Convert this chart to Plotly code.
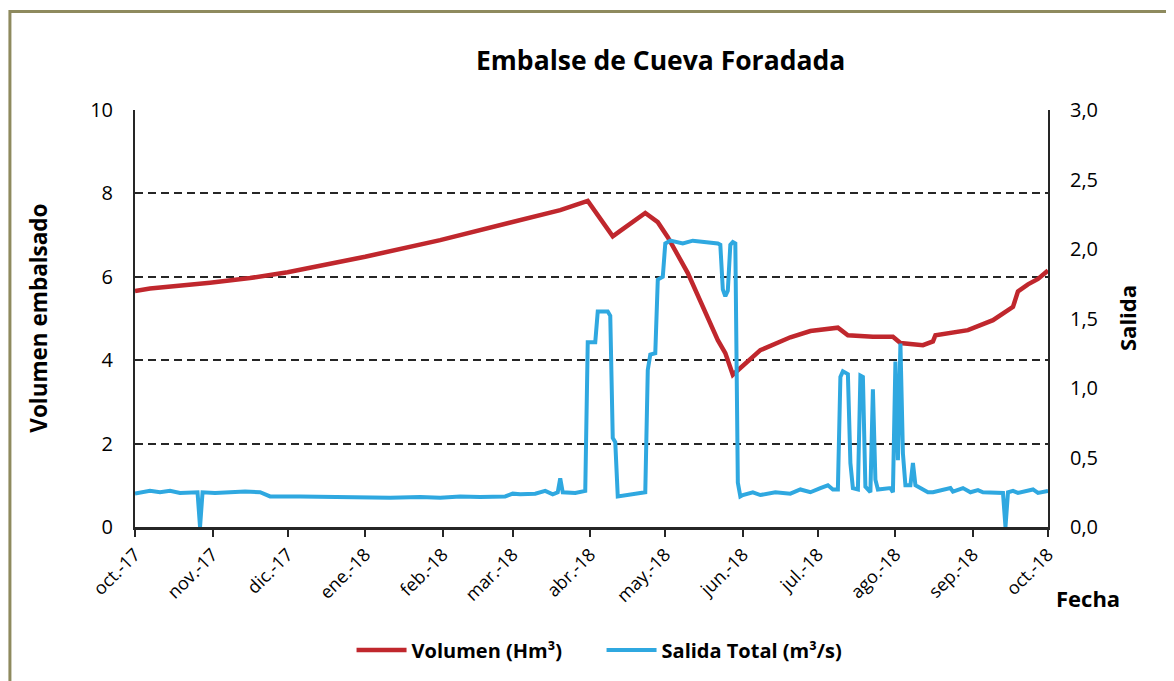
import plotly.graph_objects as go

vol_dates = ["2017-10-01", "2017-10-07", "2017-10-31", "2017-11-16", "2017-12-01",
             "2018-01-01", "2018-01-31", "2018-02-28", "2018-03-20", "2018-03-31",
             "2018-04-10", "2018-04-13", "2018-04-23", "2018-04-28", "2018-05-02",
             "2018-05-10", "2018-05-16", "2018-05-22", "2018-05-25", "2018-05-28",
             "2018-06-08", "2018-06-20", "2018-06-28", "2018-07-09", "2018-07-13",
             "2018-07-23", "2018-07-31", "2018-08-03", "2018-08-12", "2018-08-16",
             "2018-08-17", "2018-08-30", "2018-09-09", "2018-09-12", "2018-09-17",
             "2018-09-19", "2018-09-23", "2018-09-27", "2018-10-01"]
vol_values = [5.66, 5.72, 5.86, 5.97, 6.11,
              6.48, 6.88, 7.3, 7.6, 7.82,
              6.97, 7.1, 7.53, 7.31, 6.95,
              6.09, 5.28, 4.48, 4.17, 3.65,
              4.24, 4.55, 4.7, 4.78, 4.6,
              4.56, 4.56, 4.41, 4.36, 4.45,
              4.6, 4.72, 4.96, 5.08, 5.28,
              5.65, 5.82, 5.95, 6.15]

sal_dates = ["2017-10-01", "2017-10-05", "2017-10-07", "2017-10-11", "2017-10-15",
             "2017-10-19", "2017-10-23", "2017-10-26", "2017-10-27", "2017-10-28",
             "2017-11-02", "2017-11-08", "2017-11-14", "2017-11-20", "2017-11-24",
             "2017-12-06", "2017-12-18", "2017-12-30", "2018-01-11", "2018-01-23",
             "2018-01-31", "2018-02-08", "2018-02-16", "2018-02-26", "2018-03-01",
             "2018-03-04", "2018-03-10", "2018-03-14", "2018-03-17", "2018-03-19",
             "2018-03-20", "2018-03-21", "2018-03-26", "2018-03-30", "2018-03-31",
             "2018-04-03", "2018-04-04", "2018-04-08", "2018-04-09", "2018-04-10",
             "2018-04-11", "2018-04-12", "2018-04-17", "2018-04-21", "2018-04-23",
             "2018-04-24", "2018-04-25", "2018-04-27", "2018-04-28", "2018-04-30",
             "2018-05-01", "2018-05-03", "2018-05-08", "2018-05-12", "2018-05-16",
             "2018-05-22", "2018-05-23", "2018-05-24", "2018-05-25", "2018-05-26",
             "2018-05-27", "2018-05-28", "2018-05-29", "2018-05-30", "2018-05-31",
             "2018-06-01", "2018-06-05", "2018-06-08", "2018-06-14", "2018-06-20",
             "2018-06-24", "2018-06-28", "2018-07-02", "2018-07-05", "2018-07-07",
             "2018-07-09", "2018-07-10", "2018-07-11", "2018-07-13", "2018-07-14",
             "2018-07-15", "2018-07-17", "2018-07-18", "2018-07-19", "2018-07-20",
             "2018-07-22", "2018-07-23", "2018-07-24", "2018-07-25", "2018-07-30",
             "2018-07-31", "2018-08-01", "2018-08-02", "2018-08-03", "2018-08-04",
             "2018-08-05", "2018-08-07", "2018-08-08", "2018-08-09", "2018-08-14",
             "2018-08-16", "2018-08-22", "2018-08-23", "2018-08-24", "2018-08-28",
             "2018-08-31", "2018-09-03", "2018-09-05", "2018-09-13", "2018-09-14",
             "2018-09-15", "2018-09-17", "2018-09-19", "2018-09-25", "2018-09-27",
             "2018-10-01"]
sal_values = [0.24, 0.25, 0.26, 0.25, 0.26,
              0.245, 0.25, 0.25, 0.0, 0.25,
              0.245, 0.25, 0.255, 0.25, 0.22,
              0.22, 0.215, 0.215, 0.21, 0.215,
              0.21, 0.22, 0.215, 0.22, 0.24,
              0.235, 0.24, 0.26, 0.235, 0.25,
              0.35, 0.25, 0.245, 0.26, 1.33,
              1.33, 1.55, 1.55, 1.52, 0.64,
              0.61, 0.22, 0.235, 0.245, 0.25,
              1.13, 1.24, 1.25, 1.78, 1.8,
              2.04, 2.06, 2.04, 2.06, 2.05,
              2.04, 2.03, 1.71, 1.66, 1.7,
              2.03, 2.05, 2.04, 0.32, 0.22,
              0.23, 0.25, 0.23, 0.25, 0.24,
              0.27, 0.25, 0.28, 0.3, 0.27,
              0.27, 1.08, 1.12, 1.1, 0.46,
              0.28, 0.27, 1.09, 1.08, 0.29,
              0.25, 0.99, 0.34, 0.27, 0.28,
              0.25, 1.19, 0.48, 1.32, 0.53,
              0.3, 0.3, 0.46, 0.3, 0.25,
              0.25, 0.27, 0.28, 0.255, 0.28,
              0.25, 0.265, 0.25, 0.245, 0.0,
              0.25, 0.26, 0.245, 0.27, 0.245,
              0.26]

tick_dates = ["2017-10-01", "2017-11-01", "2017-12-01", "2018-01-01", "2018-02-01",
              "2018-03-01", "2018-04-01", "2018-05-01", "2018-06-01", "2018-07-01",
              "2018-08-01", "2018-09-01", "2018-10-01"]
tick_labels = ["oct.-17", "nov.-17", "dic.-17", "ene.-18", "feb.-18", "mar.-18",
               "abr.-18", "may.-18", "jun.-18", "jul.-18", "ago.-18", "sep.-18", "oct.-18"]
left_ticks = [0, 2, 4, 6, 8, 10]
right_ticks = [0, 0.5, 1.0, 1.5, 2.0, 2.5, 3.0]
right_labels = ["0,0", "0,5", "1,0", "1,5", "2,0", "2,5", "3,0"]

FONT = "Open Sans"
DARK = "#262626"

fig = go.Figure()
fig.add_trace(go.Scatter(x=vol_dates, y=vol_values, mode="lines", name="Volumen (Hm³)",
                         line=dict(color="#C0272D", width=4.5), yaxis="y"))
fig.add_trace(go.Scatter(x=sal_dates, y=sal_values, mode="lines", name="Salida Total (m³/s)",
                         line=dict(color="#2FA8E0", width=4), yaxis="y2"))

fig.update_layout(
    width=1166, height=673,
    margin=dict(l=127, r=126, t=102, b=154),
    paper_bgcolor="white", plot_bgcolor="white",
    font=dict(family=FONT, color="black", size=19),
    showlegend=True,
    legend=dict(orientation="h", x=0.511, xanchor="center", y=-0.295, yanchor="middle",
                font=dict(size=20, family=FONT, color="black", weight="bold"),
                itemwidth=50, tracegroupgap=0, traceorder="normal",
                entrywidth=185, entrywidthmode="pixels"),
    xaxis=dict(type="date", range=["2017-10-01", "2018-10-01"],
               tickvals=tick_dates, ticktext=tick_labels, tickangle=-45,
               ticks="outside", ticklen=7, tickwidth=2, tickcolor=DARK,
               showline=True, linewidth=3, linecolor=DARK, showgrid=False,
               tickfont=dict(size=18, family=FONT), zeroline=False),
    yaxis=dict(range=[0, 10], tickvals=left_ticks, showline=True, linewidth=2,
               linecolor=DARK, showgrid=True, gridcolor=DARK, gridwidth=2,
               griddash="8px,5px", zeroline=False, ticks="", ticklabelstandoff=16,
               tickfont=dict(size=20, family=FONT)),
    yaxis2=dict(range=[0, 3.0], tickvals=right_ticks, ticktext=right_labels,
                overlaying="y", side="right", showline=True, linewidth=2,
                linecolor=DARK, showgrid=False, zeroline=False, ticks="",
                ticklabelstandoff=16, tickfont=dict(size=20, family=FONT)),
    annotations=[
        dict(text="<b>Embalse de Cueva Foradada</b>", x=0.576, y=1.12, xref="paper",
             yref="paper", xanchor="center", yanchor="middle", showarrow=False,
             font=dict(size=26.5, family=FONT, color="black")),
        dict(text="<b>Volumen embalsado</b>", x=-0.106, y=0.5, xref="paper", yref="paper",
             xanchor="center", yanchor="middle", textangle=-90, showarrow=False,
             font=dict(size=22.5, family=FONT, color="black")),
        dict(text="<b>Salida</b>", x=1.086, y=0.5, xref="paper", yref="paper",
             xanchor="center", yanchor="middle", textangle=-90, showarrow=False,
             font=dict(size=22, family=FONT, color="black")),
        dict(text="<b>Fecha</b>", x=1.044, y=-0.17, xref="paper", yref="paper",
             xanchor="center", yanchor="middle", showarrow=False,
             font=dict(size=22, family=FONT, color="black")),
    ],
    shapes=[
        dict(type="rect", xref="paper", yref="paper", x0=-0.137, y0=-0.5, x1=1.3, y1=1.236,
             line=dict(color="#8E8A5E", width=3), fillcolor="rgba(0,0,0,0)", layer="below"),
    ],
)

fig.write_html("out.html")
